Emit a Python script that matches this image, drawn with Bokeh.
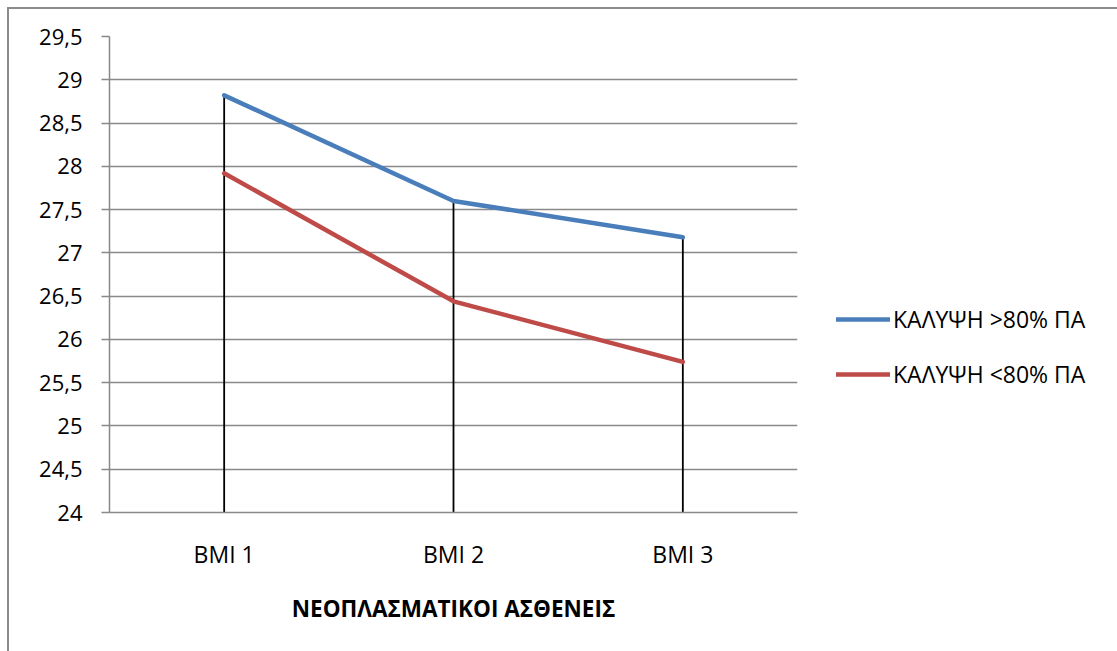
from bokeh.plotting import figure
from bokeh.models import FixedTicker, Legend, LegendItem
from bokeh.embed import file_html
from bokeh.resources import INLINE

# Mean BMI by coverage group for neoplastic patients
categories = ["BMI 1", "BMI 2", "BMI 3"]
cover_above_80 = [28.82, 27.60, 27.18]
cover_below_80 = [27.92, 26.44, 25.74]
series_names = ["ΚΑΛΥΨΗ >80% ΠΑ", "ΚΑΛΥΨΗ <80% ΠΑ"]
y_ticks = [24, 24.5, 25, 25.5, 26, 26.5, 27, 27.5, 28, 28.5, 29, 29.5]
y_tick_labels = ["24", "24,5", "25", "25,5", "26", "26,5", "27", "27,5", "28", "28,5", "29", "29,5"]
x_title = "ΝΕΟΠΛΑΣΜΑΤΙΚΟΙ ΑΣΘΕΝΕΙΣ"

FONT = "Open Sans"
GRID = "#898989"
BLUE = "#4a7ebb"
RED = "#be4b48"

p = figure(x_range=categories, y_range=(y_ticks[0], y_ticks[-1]),
           frame_width=688, frame_height=476, output_backend="svg", toolbar_location=None,
           min_border_left=100, min_border_right=20, min_border_top=27, min_border_bottom=141)
p.margin = (7, 0, 0, 7)
p.styles = {"border-left": "2px solid #8c8c8c", "border-top": "2px solid #8c8c8c",
            "box-sizing": "border-box"}

p.outline_line_color = None
p.background_fill_color = "white"
p.border_fill_color = "white"

p.xgrid.grid_line_color = None
p.ygrid.grid_line_color = GRID
p.ygrid.grid_line_width = 1.5

p.yaxis.ticker = FixedTicker(ticks=y_ticks)
p.yaxis.major_label_overrides = dict(zip(y_ticks, y_tick_labels))
p.yaxis.axis_line_color = GRID
p.yaxis.axis_line_width = 1.5
p.yaxis.major_tick_line_color = GRID
p.yaxis.major_tick_line_width = 1.5
p.yaxis.major_tick_out = 8
p.yaxis.major_tick_in = 0
p.yaxis.minor_tick_line_color = None
p.yaxis.major_label_standoff = 19
p.yaxis.major_label_text_font = FONT
p.yaxis.major_label_text_font_size = "22px"
p.yaxis.major_label_text_color = "black"

p.xaxis.axis_line_color = GRID
p.xaxis.axis_line_width = 1.5
p.xaxis.major_tick_line_color = None
p.xaxis.minor_tick_line_color = None
p.xaxis.major_label_standoff = 19
p.xaxis.major_label_text_font = FONT
p.xaxis.major_label_text_font_size = "23px"
p.xaxis.major_label_text_color = "black"
p.xaxis.axis_label = x_title
p.xaxis.axis_label_text_font = FONT
p.xaxis.axis_label_text_font_size = "22.5px"
p.xaxis.axis_label_text_font_style = "bold"
p.xaxis.axis_label_text_color = "black"
p.xaxis.axis_label_standoff = 20

# high-low drop lines from the axis up to the upper series
p.segment(x0=categories, y0=[y_ticks[0]] * 3, x1=categories, y1=cover_above_80,
          line_color="black", line_width=1.8)

r1 = p.line(categories, cover_above_80, line_color=BLUE, line_width=4.5, line_cap="round")
r2 = p.line(categories, cover_below_80, line_color=RED, line_width=4.5, line_cap="round")

legend = Legend(items=[LegendItem(label=series_names[0], renderers=[r1]),
                       LegendItem(label=series_names[1], renderers=[r2])],
                location=(39, 122), orientation="vertical",
                glyph_width=54, glyph_height=20, label_height=20, spacing=23,
                label_standoff=3, padding=0, margin=0,
                border_line_color=None, background_fill_alpha=0,
                label_text_font=FONT, label_text_font_size="23px", label_text_color="black")
p.add_layout(legend, "right")

open("out.html", "w").write(file_html(p, INLINE))
